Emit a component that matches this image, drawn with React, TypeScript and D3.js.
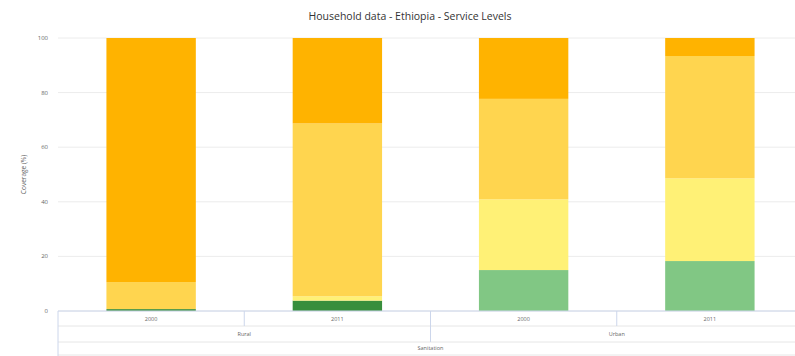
import React from "react";
import * as d3 from "d3";

const categories = ["Rural 2000", "Rural 2011", "Urban 2000", "Urban 2011"];
const years = ["2000", "2011", "2000", "2011"];
const groups = ["Rural", "Urban"];
const topGroup = "Sanitation";
const seriesNames = ["Safely managed", "Basic", "Limited", "Unimproved", "Open defecation"];
const seriesColors = ["#388e3c", "#81c784", "#fff176", "#ffd54f", "#ffb300"];
const safelyManaged = [0.7, 3.8, 0, 0];
const basic = [0, 0, 15.0, 18.3];
const limited = [0, 1.6, 25.9, 30.3];
const unimproved = [9.9, 63.3, 36.8, 44.8];
const openDefecation = [89.4, 31.3, 22.3, 6.6];
const yTicks = [0, 20, 40, 60, 80, 100];
const title = "Household data - Ethiopia - Service Levels";
const yTitle = "Coverage (%)";

export default function App() {
  const W = 795, H = 356;
  const left = 58, right = 803, top = 38, bottom = 311;
  const x = d3.scaleBand().domain(categories).range([left, right]).paddingInner(0.52).paddingOuter(0.26);
  const xOuter = d3.scaleBand().domain(categories).range([left, right]);
  const y = d3.scaleLinear().domain([0, 100]).range([bottom, top]);
  const table = categories.map((c, i) => ({
    cat: c,
    s0: safelyManaged[i], s1: basic[i], s2: limited[i], s3: unimproved[i], s4: openDefecation[i],
  }));
  const stack = d3.stack<any>().keys(["s0", "s1", "s2", "s3", "s4"])(table);
  const font = "'Open Sans', 'DejaVu Sans', sans-serif";
  const lineCol = "#ececec";
  const bw = xOuter.bandwidth();
  const row1 = 326, row2 = 342, row3 = 356;
  return (
    <svg width={W} height={H} style={{ position: "absolute", left: 0, top: 0 }} fontFamily={font}>
      <rect width={W} height={H} fill="#fff" />
      <text x={410} y={20} textAnchor="middle" fontSize={10.5} fill="#333">{title}</text>
      {yTicks.map(t => (
        <g key={t}>
          <line x1={left} x2={right} y1={y(t)} y2={y(t)} stroke={lineCol} strokeWidth={1} />
          <text x={48} y={y(t) + 2} textAnchor="end" fontSize={6} fill="#666">{t}</text>
        </g>
      ))}
      <text transform={`translate(26,${(top + bottom) / 2}) rotate(-90)`} textAnchor="middle" fontSize={6.5} fill="#666">{yTitle}</text>
      {stack.map((layer, si) => (
        <g key={si} fill={seriesColors[si]}>
          {layer.map((d, i) => {
            const h = y(d[0]) - y(d[1]);
            if (h <= 0) return null;
            return <rect key={i} x={x(categories[i])} y={y(d[1])} width={x.bandwidth()} height={h} />;
          })}
        </g>
      ))}
      <line x1={left} x2={right} y1={bottom} y2={bottom} stroke="#ccd6eb" />
      <line x1={left} x2={right} y1={row1} y2={row1} stroke="#e6e6e6" />
      <line x1={left} x2={right} y1={row2} y2={row2} stroke="#e6e6e6" />
      <line x1={left} x2={right} y1={row3 - 1} y2={row3 - 1} stroke="#e6e6e6" />
      <line x1={left} x2={left} y1={bottom} y2={row3} stroke="#ccd6eb" />
      {categories.map((c, i) => (
        <g key={c}>
          {i > 0 && (
            <line x1={xOuter(c)} x2={xOuter(c)} y1={bottom} y2={i === 2 ? row2 : row1} stroke="#ccd6eb" />
          )}
          <text x={(xOuter(c) as number) + bw / 2} y={321} textAnchor="middle" fontSize={5.5} fill="#666">{years[i]}</text>
        </g>
      ))}
      {groups.map((g, gi) => (
        <text key={g} x={(xOuter(categories[gi * 2]) as number) + bw} y={336} textAnchor="middle" fontSize={5.5} fill="#666">{g}</text>
      ))}
      <text x={(left + right) / 2} y={350} textAnchor="middle" fontSize={5.5} fill="#666">{topGroup}</text>
    </svg>
  );
}
